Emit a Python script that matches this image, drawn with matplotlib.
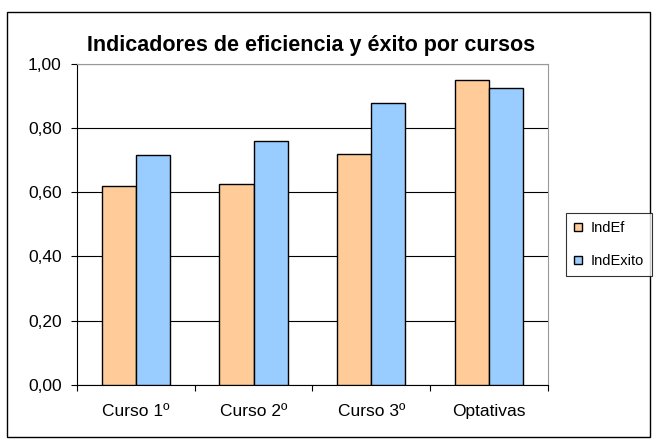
import matplotlib.pyplot as plt
import numpy as np
from matplotlib.patches import Rectangle

plt.rcParams['font.family'] = ['Liberation Sans', 'DejaVu Sans']

# Datos
cursos = ['Curso 1º', 'Curso 2º', 'Curso 3º', 'Optativas']
ind_ef = [0.62, 0.625, 0.72, 0.948]
ind_exito = [0.715, 0.76, 0.877, 0.926]
yticks = [0.0, 0.2, 0.4, 0.6, 0.8, 1.0]
ytick_labels = ['0,00', '0,20', '0,40', '0,60', '0,80', '1,00']

fig = plt.figure(figsize=(6.57, 4.43), dpi=100)
ax = fig.add_axes([0.117, 0.131, 0.717, 0.725])

# marco exterior
fig.patches.append(Rectangle((0.011, 0.013), 0.978, 0.96, transform=fig.transFigure,
                             fill=False, edgecolor='black', linewidth=1.0))

x = np.arange(len(cursos))
w = 0.29
ax.bar(x - w / 2, ind_ef, w, color='#FFCC99', edgecolor='black', linewidth=1.0,
       label='IndEf', zorder=3)
ax.bar(x + w / 2, ind_exito, w, color='#99CCFF', edgecolor='black', linewidth=1.0,
       label='IndExito', zorder=3)

ax.set_xlim(-0.5, len(cursos) - 0.5)
ax.set_ylim(0, 1.0)
ax.set_yticks(yticks)
ax.set_yticklabels(ytick_labels, fontsize=12.5)
ax.yaxis.grid(True, color='black', linewidth=0.8, zorder=0)

# ticks del eje x entre categorias
ax.set_xticks(np.arange(-0.5, len(cursos), 1.0))
ax.set_xticklabels([])
ax.set_xticks(x, minor=True)
ax.set_xticklabels(cursos, minor=True, fontsize=12.5)
ax.tick_params(axis='x', which='minor', length=0, pad=14)
ax.tick_params(axis='x', which='major', length=4, direction='out')
ax.tick_params(axis='y', length=4, direction='out', pad=7)

for s in ['top', 'right']:
    ax.spines[s].set_color('#999999')
ax.spines['left'].set_color('black')
ax.spines['bottom'].set_color('black')

fig.text(0.474, 0.898, 'Indicadores de eficiencia y éxito por cursos', ha='center',
         va='center', fontsize=15.5, fontweight='bold')

leg = fig.legend(loc='center left', bbox_to_anchor=(0.862, 0.447), fontsize=10.5,
                 frameon=True, fancybox=False, edgecolor='black', handlelength=0.5,
                 handleheight=0.5, handletextpad=0.6, borderpad=0.55, labelspacing=1.3,
                 borderaxespad=0)
leg.get_frame().set_linewidth(0.8)

plt.savefig('out.png', dpi=100)
